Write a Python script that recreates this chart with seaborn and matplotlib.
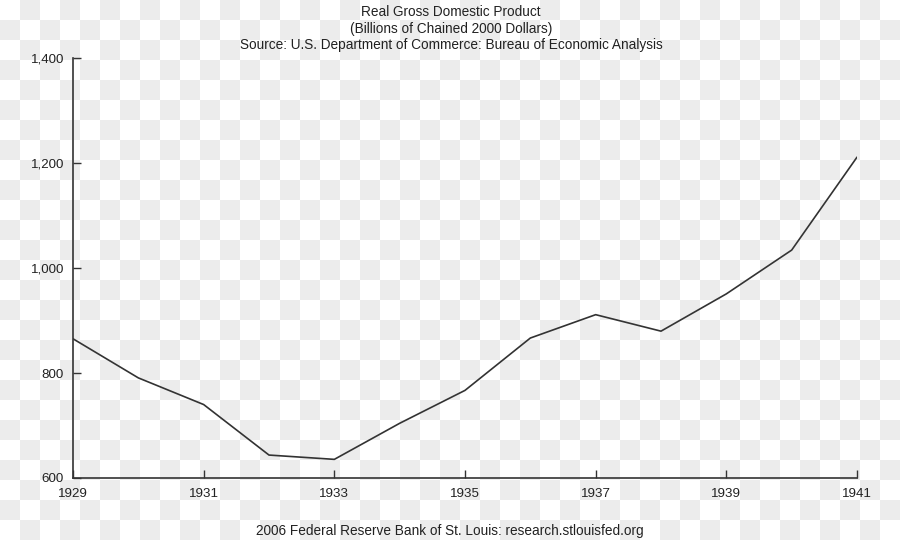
import numpy as np
import matplotlib
matplotlib.use("Agg")
import matplotlib.pyplot as plt
from matplotlib.colors import ListedColormap
from matplotlib.ticker import FuncFormatter
import seaborn as sns

# Real GDP, billions of chained 2000 dollars
years = [1929, 1930, 1931, 1932, 1933, 1934, 1935, 1936, 1937, 1938, 1939, 1940, 1941]
gdp = [865.2, 790.7, 739.9, 643.7, 635.5, 704.2, 766.9, 866.6, 911.1, 879.7, 950.7, 1034.1, 1211.1]

x_ticks = [1929, 1931, 1933, 1935, 1937, 1939, 1941]
y_ticks = [600, 800, 1000, 1200, 1400]

title_lines = ["Real Gross Domestic Product",
               "(Billions of Chained 2000 Dollars)",
               "Source: U.S. Department of Commerce: Bureau of Economic Analysis"]
footer = "2006 Federal Reserve Bank of St. Louis: research.stlouisfed.org"

sns.set_style("ticks")
plt.rcParams["font.family"] = ["Liberation Sans", "DejaVu Sans"]

fig = plt.figure(figsize=(9, 5.4), dpi=100)

# checkered backdrop, 20px squares
bg = fig.add_axes([0, 0, 1, 1], zorder=-1)
jj, ii = np.mgrid[0:27, 0:45]
bg.imshow((ii + jj) % 2, cmap=ListedColormap(["#ffffff", "#ececec"]),
          aspect="auto", interpolation="nearest")
bg.axis("off")

ax = fig.add_axes([73 / 900, 62 / 540, 784 / 900, 420 / 540])
ax.set_facecolor("none")
sns.lineplot(x=years, y=gdp, ax=ax, color="#333333", linewidth=1.2)

ax.set_xlim(1929, 1941)
ax.set_ylim(600, 1400)
ax.set_xticks(x_ticks)
ax.set_yticks(y_ticks)
ax.yaxis.set_major_formatter(FuncFormatter(lambda v, p: f"{int(v):,}"))
ax.tick_params(direction="in", length=6, width=1, color="#333333",
               labelsize=9.6, labelcolor="#222222")
ax.tick_params(axis="x", pad=7.5)
ax.tick_params(axis="y", pad=6.5)
for side in ["top", "right"]:
    ax.spines[side].set_visible(False)
for side in ["left", "bottom"]:
    ax.spines[side].set_color("#333333")
    ax.spines[side].set_linewidth(1.2)

for i, line in enumerate(title_lines):
    fig.text(451 / 900, 1 - (12.5 + 16.5 * i) / 540, line, ha="center", va="center",
             fontsize=9.8, color="#222222")
fig.text(450 / 900, 1 - 531 / 540, footer, ha="center", va="center",
         fontsize=9.8, color="#222222")

fig.savefig("out.png", dpi=100)
